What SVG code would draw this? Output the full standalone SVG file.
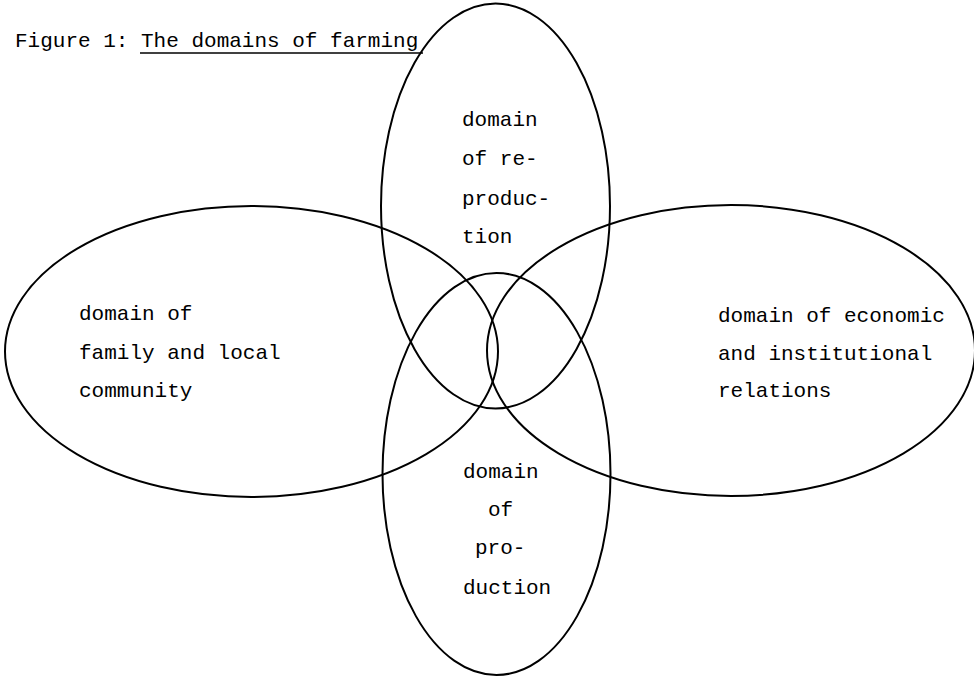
<svg xmlns="http://www.w3.org/2000/svg" width="974" height="676" viewBox="0 0 974 676">
  <style>
    .domain { fill: none; stroke: #000; stroke-width: 2; }
    .label { font-family: "Liberation Mono", "Courier New", monospace; font-size: 21px; fill: #000; }
    .rule { stroke: #000; stroke-width: 1.6; }
  </style>
  <rect width="974" height="676" fill="#fff"/>

  <!-- caption -->
  <g id="caption">
    <text class="label" x="15" y="47">Figure 1: The domains of farming</text>
    <line class="rule" x1="140" y1="53" x2="423" y2="53"/>
  </g>

  <!-- domain of reproduction (upper) -->
  <g id="reproduction">
    <ellipse class="domain" cx="495.5" cy="206" rx="114.5" ry="202.5"/>
    <text class="label" x="462" y="126">domain</text>
    <text class="label" x="462" y="165">of re-</text>
    <text class="label" x="462" y="205">produc-</text>
    <text class="label" x="462" y="243">tion</text>
  </g>

  <!-- domain of family and local community (left) -->
  <g id="family">
    <ellipse class="domain" cx="251.5" cy="351.5" rx="246.5" ry="145.5"/>
    <text class="label" x="79" y="320">domain of</text>
    <text class="label" x="79" y="359">family and local</text>
    <text class="label" x="79" y="397">community</text>
  </g>

  <!-- domain of economic and institutional relations (right) -->
  <g id="economic">
    <ellipse class="domain" cx="731" cy="350.5" rx="244" ry="145.5"/>
    <text class="label" x="718" y="322">domain of economic</text>
    <text class="label" x="718" y="360">and institutional</text>
    <text class="label" x="718" y="397">relations</text>
  </g>

  <!-- domain of production (lower) -->
  <g id="production">
    <ellipse class="domain" cx="496.5" cy="474" rx="114" ry="201"/>
    <text class="label" x="463" y="478">domain</text>
    <text class="label" x="488" y="516">of</text>
    <text class="label" x="475" y="554">pro-</text>
    <text class="label" x="463" y="594">duction</text>
  </g>

  <!-- no connectors: the domains overlap directly -->
  <g id="connectors"/>
</svg>
